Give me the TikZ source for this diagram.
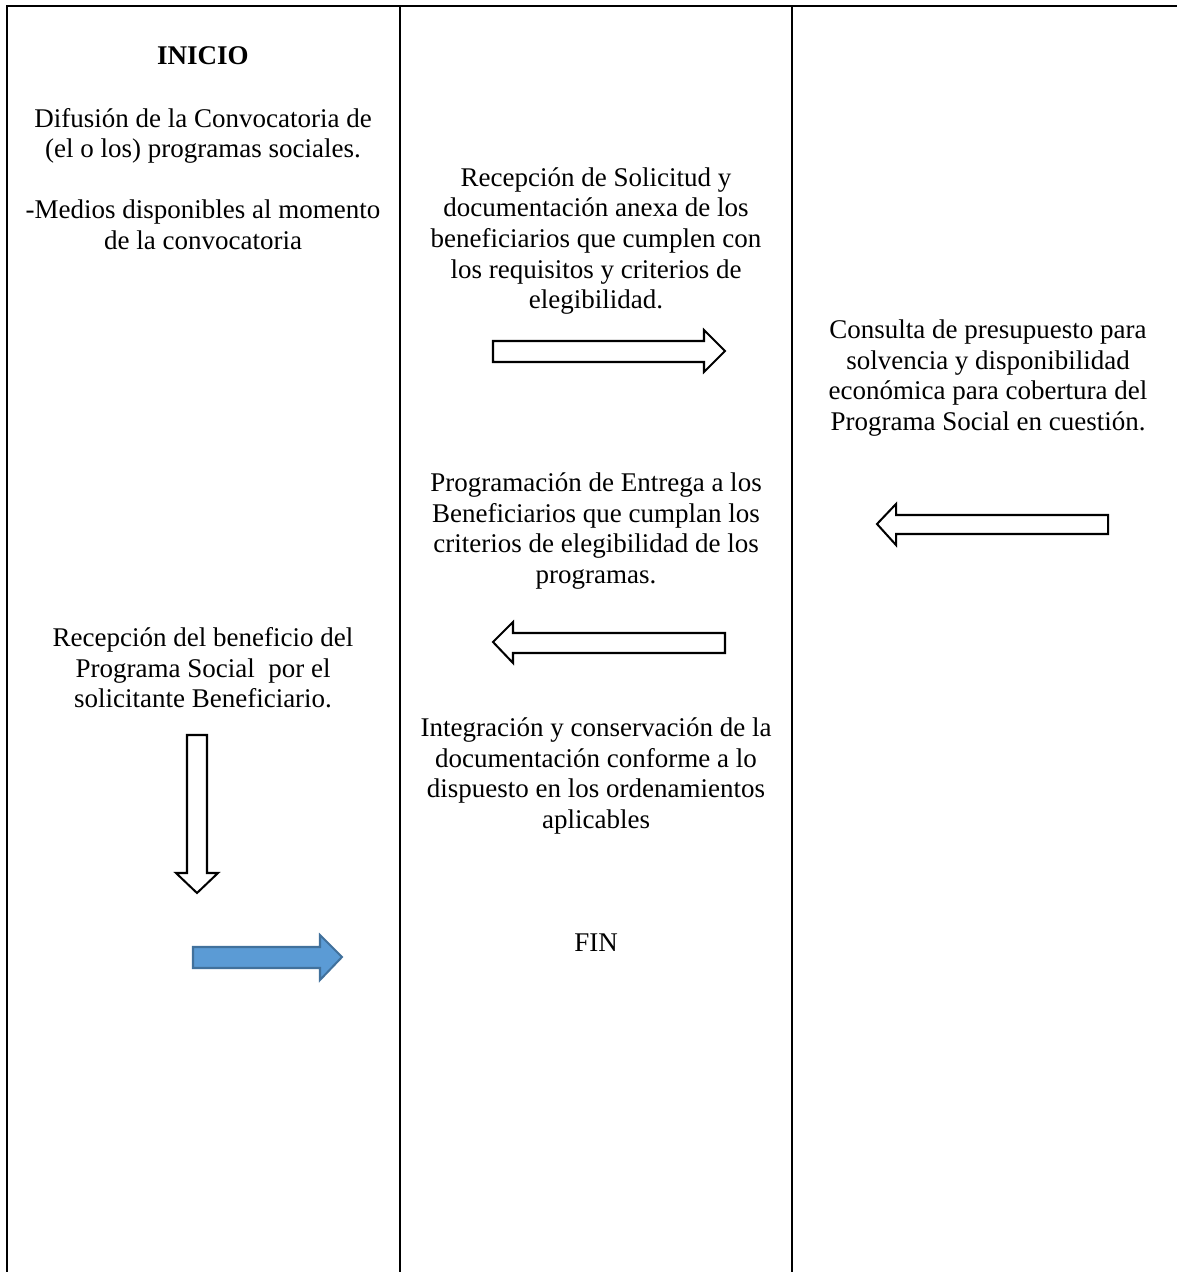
\documentclass[tikz,border=0pt]{standalone}
\usepackage{fontspec}
\setmainfont{Liberation Serif}
\definecolor{arrowblue}{HTML}{5B9BD5}
\definecolor{arrowedge}{HTML}{41719C}

\begin{document}
\begin{tikzpicture}[x=0.4444pt,y=-0.4444pt,
	txt/.style={align=center,inner sep=0pt,font=\fontsize{12}{13.6}\selectfont},
	hollow/.style={draw=black,fill=white,line width=0.9pt,line join=miter},
	filled/.style={draw=arrowedge,fill=arrowblue,line width=0.9pt,line join=miter}]
\useasboundingbox (0,0) rectangle (1177,1272);

% lanes
\draw[line width=1pt] (7,1272) -- (7,6) -- (1177,6);
\foreach \lx in {400,792}
	\draw[line width=1pt] (\lx,6) -- (\lx,1272);

% texts
\node[txt,font=\fontsize{12}{13.6}\selectfont\bfseries] (inicio) at (203,56) {INICIO};
\node[txt] (difusion) at (203,179) {Difusión de la Convocatoria de\\(el o los) programas sociales.\\[13.6pt]-Medios disponibles al momento\\de la convocatoria};
\node[txt] (recepcion) at (596,241) {Recepción de Solicitud y\\documentación anexa de los\\beneficiarios que cumplen con\\los requisitos y criterios de\\elegibilidad.};
\node[txt] (consulta) at (988,378) {Consulta de presupuesto para\\solvencia y disponibilidad\\económica para cobertura del\\Programa Social en cuestión.};
\node[txt] (programacion) at (596,531) {Programación de Entrega a los\\Beneficiarios que cumplan los\\criterios de elegibilidad de los\\programas.};
\node[txt] (beneficio) at (203,668) {Recepción del beneficio del\\Programa Social\ \ por el\\solicitante Beneficiario.};
\node[txt] (integracion) at (596,776) {Integración y conservación de la\\documentación conforme a lo\\dispuesto en los ordenamientos\\aplicables};
\node[txt] (fin) at (596,943) {FIN};

% block arrows
\draw[hollow] (493,341) -- (704,341) -- (704,330) -- (725,351) -- (704,372) -- (704,362) -- (493,362) -- cycle;
\draw[hollow] (1108,515) -- (896,515) -- (896,504) -- (877,524) -- (896,545) -- (896,534) -- (1108,534) -- cycle;
\draw[hollow] (725,633) -- (513,633) -- (513,622) -- (493,642) -- (513,663) -- (513,653) -- (725,653) -- cycle;
\draw[hollow] (187,735) -- (187,873) -- (176,873) -- (197,893) -- (218,873) -- (207,873) -- (207,735) -- cycle;
\draw[filled] (193,947) -- (320,947) -- (320,935) -- (342,957) -- (320,980) -- (320,968) -- (193,968) -- cycle;
\end{tikzpicture}
\end{document}
